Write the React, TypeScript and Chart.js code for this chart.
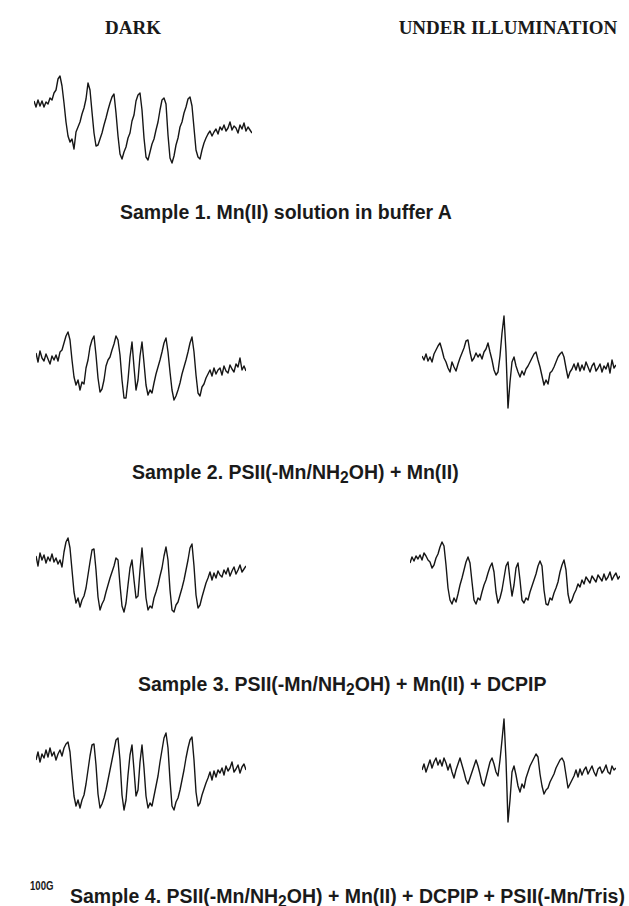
import React, { useEffect, useRef } from "react";
import { Chart, registerables } from "chart.js";

Chart.register(...registerables);

// ---------- data (EPR derivative intensity, arbitrary units, one value per field step) ----------
const s1Dark = [
  99, 93, 100, 94, 99, 93, 98, 96, 102, 100,
  107, 110, 121, 124, 114, 97, 78, 64, 58, 61,
  51, 68, 73, 78, 86, 92, 101, 117, 110, 88,
  67, 54, 55, 61, 67, 75, 82, 90, 97, 103,
  106, 87, 64, 46, 41, 48, 53, 62, 67, 79,
  85, 99, 105, 107, 90, 62, 43, 40, 48, 56,
  61, 70, 78, 90, 100, 102, 96, 65, 42, 37,
  44, 55, 62, 73, 78, 87, 93, 101, 103, 94,
  72, 50, 43, 41, 50, 57, 62, 66, 69, 64,
  68, 71, 66, 73, 70, 75, 69, 72, 78, 70,
  74, 72, 67, 75, 71, 77, 69, 73, 70, 67,
];

const s2Dark = [
  97, 88, 99, 92, 89, 96, 91, 86, 94, 90,
  95, 89, 98, 100, 107, 114, 118, 110, 90, 73,
  65, 70, 60, 68, 66, 82, 90, 103, 110, 114,
  95, 72, 58, 61, 70, 84, 90, 93, 100, 106,
  114, 110, 95, 70, 52, 52, 70, 93, 108, 83,
  60, 70, 94, 108, 87, 65, 55, 60, 57, 67,
  76, 83, 90, 98, 107, 112, 98, 78, 60, 50,
  54, 60, 67, 76, 83, 90, 98, 107, 113, 98,
  75, 57, 54, 63, 66, 72, 76, 80, 74, 82,
  76, 80, 82, 75, 84, 79, 77, 85, 81, 78,
  86, 83, 92, 80, 84, 79,
];

const s2Light = [
  94, 90, 96, 89, 93, 88, 96, 100, 104, 107,
  100, 92, 88, 82, 78, 88, 83, 79, 86, 92,
  97, 102, 109, 110, 98, 89, 92, 97, 93, 96,
  91, 98, 101, 107, 98, 90, 80, 75, 78, 94,
  117, 134, 98, 42, 68, 88, 93, 84, 78, 73,
  79, 75, 81, 84, 88, 92, 96, 98, 90, 83,
  74, 65, 70, 66, 77, 79, 83, 88, 93, 96,
  98, 93, 82, 72, 78, 81, 86, 80, 87, 79,
  85, 80, 88, 83, 78, 84, 87, 79, 82, 86,
  78, 84, 81, 87, 77, 90, 82, 85,
];

const s3Dark = [
  94, 84, 97, 90, 95, 87, 93, 89, 96, 88,
  92, 86, 90, 83, 98, 108, 112, 102, 80, 58,
  47, 52, 43, 50, 54, 62, 75, 88, 100, 101,
  80, 53, 40, 46, 50, 58, 65, 72, 78, 84,
  92, 90, 65, 44, 38, 47, 65, 82, 90, 70,
  52, 54, 80, 102, 78, 52, 40, 44, 42, 52,
  58, 65, 74, 82, 94, 103, 90, 60, 40, 38,
  45, 48, 55, 62, 70, 80, 90, 102, 106, 84,
  55, 42, 45, 53, 60, 67, 72, 78, 70, 77,
  72, 79, 75, 73, 80, 76, 82, 74, 79, 83,
  76, 80, 85, 78, 81, 84,
];

const s3Light = [
  87, 93, 89, 94, 91, 95, 90, 97, 94, 90,
  88, 82, 85, 92, 96, 103, 108, 104, 85, 62,
  50, 46, 52, 48, 56, 65, 72, 80, 88, 93,
  87, 68, 50, 46, 52, 50, 58, 65, 70, 77,
  83, 87, 78, 58, 47, 52, 60, 72, 84, 88,
  70, 54, 65, 82, 87, 70, 50, 47, 52, 50,
  58, 64, 70, 76, 84, 89, 84, 60, 46, 45,
  52, 50, 57, 62, 68, 78, 85, 90, 80, 56,
  47, 50, 56, 60, 66, 63, 70, 66, 73, 70,
  67, 74, 71, 68, 75, 72, 69, 76, 70, 73,
  78, 70, 74, 77, 71, 74,
];

const s4Dark = [
  90, 98, 88, 96, 92, 100, 93, 102, 94, 98,
  90, 96, 100, 94, 102, 106, 108, 98, 75, 54,
  44, 50, 42, 50, 55, 66, 80, 94, 105, 106,
  85, 56, 42, 46, 52, 60, 70, 80, 90, 100,
  110, 112, 90, 55, 40, 50, 75, 95, 105, 80,
  54, 60, 88, 105, 82, 54, 42, 47, 44, 54,
  64, 74, 88, 100, 112, 117, 102, 70, 44, 40,
  48, 52, 60, 70, 80, 92, 102, 110, 113, 90,
  58, 44, 47, 55, 61, 67, 72, 78, 70, 79,
  73, 80, 77, 82, 75, 84, 79, 82, 88, 78,
  81, 85, 77, 83, 86, 80,
];

const s4Light = [
  80, 86, 78, 84, 90, 82, 88, 92, 85, 90,
  84, 92, 87, 80, 86, 78, 72, 80, 86, 92,
  85, 78, 70, 66, 72, 78, 84, 90, 84, 76,
  67, 64, 72, 80, 88, 92, 86, 78, 74, 90,
  110, 131, 90, 28, 50, 78, 84, 75, 64, 58,
  66, 62, 72, 78, 84, 88, 92, 96, 93, 76,
  64, 56, 60, 62, 68, 72, 76, 82, 86, 90,
  92, 88, 75, 62, 66, 70, 74, 80, 73, 81,
  75, 80, 83, 76, 80, 84, 78, 74, 81, 83,
  77, 80, 85, 78, 76, 84, 80, 82,
];

const headers = ["DARK", "UNDER ILLUMINATION"];
const captions = [
  "Sample 1. Mn(II) solution in buffer A",
  "Sample 2. PSII(-Mn/NH2OH) + Mn(II)",
  "Sample 3. PSII(-Mn/NH2OH) + Mn(II) + DCPIP",
  "Sample 4. PSII(-Mn/NH2OH) + Mn(II) + DCPIP + PSII(-Mn/Tris)",
];
const scaleLabel = "100G";

// ---------- layout ----------
type Panel = { data: number[]; left: number; top: number; width: number; height: number; ymin: number; ymax: number };

const panels: Panel[] = [
  { data: s1Dark, left: 34, top: 70, width: 218, height: 100, ymin: 30, ymax: 130 },
  { data: s2Dark, left: 36, top: 325, width: 210, height: 85, ymin: 40, ymax: 125 },
  { data: s2Light, left: 422, top: 310, width: 194, height: 105, ymin: 35, ymax: 140 },
  { data: s3Dark, left: 36, top: 530, width: 210, height: 90, ymin: 30, ymax: 120 },
  { data: s3Light, left: 410, top: 535, width: 210, height: 80, ymin: 35, ymax: 115 },
  { data: s4Dark, left: 36, top: 725, width: 210, height: 95, ymin: 30, ymax: 125 },
  { data: s4Light, left: 422, top: 710, width: 194, height: 120, ymin: 20, ymax: 140 },
];

const headerPos = [
  { x: 133, y: 28 },
  { x: 508, y: 28 },
];
const captionPos = [
  { x: 120, y: 212 },
  { x: 132, y: 472 },
  { x: 138, y: 684 },
  { x: 70, y: 896 },
];

function Trace({ p }: { p: Panel }) {
  const ref = useRef<HTMLCanvasElement | null>(null);
  useEffect(() => {
    if (!ref.current) return;
    const chart = new Chart(ref.current, {
      type: "line",
      data: {
        datasets: [
          {
            data: p.data.map((v, i) => ({ x: i, y: v })),
            borderColor: "#161616",
            borderWidth: 1.4,
            pointRadius: 0,
            tension: 0,
            fill: false,
            clip: false,
          } as any,
        ],
      },
      options: {
        animation: false,
        responsive: false,
        maintainAspectRatio: false,
        events: [],
        layout: { padding: 0 },
        plugins: { legend: { display: false }, tooltip: { enabled: false } },
        scales: {
          x: { type: "linear", display: false, min: 0, max: p.data.length - 1 },
          y: { type: "linear", display: false, min: p.ymin, max: p.ymax },
        },
        elements: { line: { borderJoinStyle: "round" } },
      } as any,
    });
    return () => chart.destroy();
  }, [p]);
  return (
    <canvas
      ref={ref}
      width={p.width}
      height={p.height}
      style={{ position: "absolute", left: p.left, top: p.top, width: p.width, height: p.height }}
    />
  );
}

function renderCaption(t: string) {
  const parts = t.split("NH2OH");
  const out: React.ReactNode[] = [];
  parts.forEach((s, i) => {
    out.push(<span key={"s" + i}>{s}</span>);
    if (i < parts.length - 1) {
      out.push(
        <span key={"n" + i}>
          NH<span style={{ fontSize: "0.8em", position: "relative", top: "0.3em" }}>2</span>OH
        </span>
      );
    }
  });
  return out;
}

export default function App() {
  const sans = "'Liberation Sans', Arial, sans-serif";
  const serif = "'Liberation Serif', 'Times New Roman', serif";
  return (
    <div style={{ position: "absolute", left: 0, top: 0, width: 629, height: 906, background: "#fff", overflow: "hidden" }}>
      {headers.map((h, i) => (
        <div
          key={h}
          style={{
            position: "absolute",
            left: headerPos[i].x,
            top: headerPos[i].y - 9.6,
            transform: "translateX(-50%)",
            whiteSpace: "nowrap",
            fontFamily: serif,
            fontWeight: "bold",
            fontSize: 19,
            lineHeight: "1",
            color: "#1a1a1a",
          }}
        >
          {h}
        </div>
      ))}
      {panels.map((p, i) => (
        <Trace key={i} p={p} />
      ))}
      {captions.map((c, i) => (
        <div
          key={i}
          style={{
            position: "absolute",
            left: captionPos[i].x,
            top: captionPos[i].y - 9.5,
            whiteSpace: "nowrap",
            fontFamily: sans,
            fontWeight: "bold",
            fontSize: 19.5,
            lineHeight: "1",
            color: "#1a1a1a",
          }}
        >
          {renderCaption(c)}
        </div>
      ))}
      <div
        style={{
          position: "absolute",
          left: 30,
          top: 880,
          whiteSpace: "nowrap",
          fontFamily: sans,
          fontWeight: "bold",
          fontSize: 12,
          lineHeight: "1",
          color: "#1a1a1a",
          transform: "scaleX(0.8)",
          transformOrigin: "left top",
        }}
      >
        {scaleLabel}
      </div>
    </div>
  );
}
